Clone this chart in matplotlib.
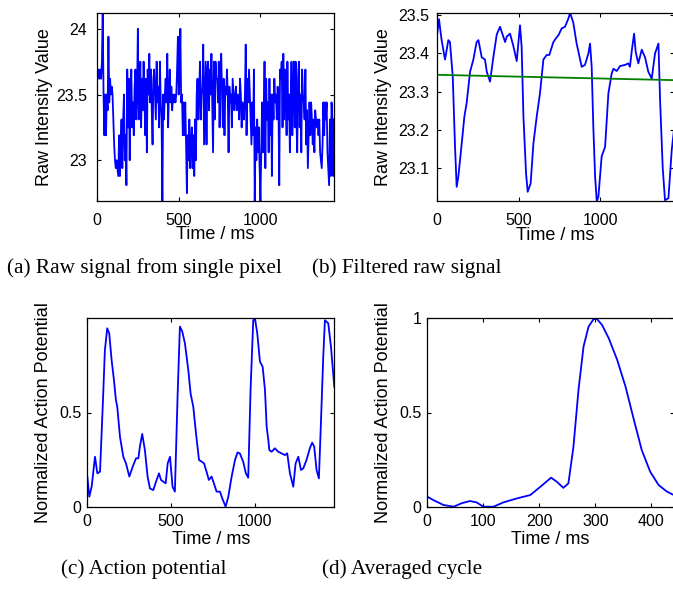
import matplotlib
matplotlib.use("Agg")
import matplotlib.pyplot as plt
import numpy as np
from matplotlib.ticker import FormatStrFormatter

plt.rcParams["font.family"] = ["Liberation Sans", "DejaVu Sans"]

# (a) raw signal from a single pixel, one sample every 5 ms
raw_dt = 5
raw_values = [
    23.69, 23.62, 23.69, 23.62, 23.69, 23.62, 23.75, 24.12, 23.50, 23.19,
    23.50, 23.19, 23.50, 23.38, 23.94, 23.44, 23.62, 23.50, 23.56, 23.50,
    23.31, 23.12, 23.00, 22.94, 23.00, 22.94, 22.88, 23.19, 22.88, 23.12,
    23.31, 22.94, 23.31, 23.50, 23.00, 23.19, 22.81, 23.69, 23.25, 23.62,
    23.00, 23.50, 23.69, 23.25, 23.44, 23.19, 23.56, 23.69, 23.31, 23.50,
    24.00, 23.31, 23.44, 23.75, 23.25, 23.62, 23.38, 23.75, 23.50, 23.19,
    23.62, 23.06, 23.69, 23.50, 23.81, 23.44, 23.69, 23.38, 23.12, 23.62,
    23.69, 23.50, 23.31, 23.75, 23.44, 23.56, 23.25, 23.75, 23.44, 23.31,
    22.69, 23.50, 23.31, 23.50, 23.62, 23.44, 23.81, 23.25, 23.50, 23.69,
    23.44, 23.56, 23.38, 23.50, 23.44, 23.50, 23.44, 23.50, 23.69, 23.94,
    23.50, 23.62, 24.00, 23.44, 23.50, 23.19, 23.44, 23.19, 23.44, 23.12,
    22.75, 23.19, 23.00, 23.31, 22.94, 23.12, 23.25, 22.94, 23.19, 22.88,
    23.31, 23.00, 23.50, 23.62, 23.31, 23.50, 23.75, 23.31, 23.50, 23.56,
    23.88, 23.12, 23.44, 23.75, 23.12, 23.69, 23.75, 23.38, 23.69, 23.50,
    23.81, 23.44, 23.06, 23.75, 23.31, 23.75, 23.62, 23.62, 23.44, 23.75,
    23.25, 23.69, 23.81, 23.50, 23.25, 23.62, 23.19, 23.56, 23.50, 23.69,
    23.50, 23.06, 23.56, 23.44, 23.50, 23.25, 23.62, 23.50, 23.38, 23.50,
    23.56, 23.38, 23.50, 23.44, 23.31, 23.62, 23.50, 23.25, 23.44, 23.38,
    23.31, 23.50, 23.88, 23.19, 23.62, 23.44, 23.69, 23.50, 23.31, 23.12,
    23.44, 23.19, 23.69, 22.69, 23.25, 23.00, 23.31, 23.06, 23.25, 22.94,
    22.69, 23.06, 23.44, 23.06, 23.31, 23.75, 22.94, 23.62, 23.31, 23.44,
    23.06, 23.62, 23.19, 23.50, 22.88, 23.50, 23.31, 23.62, 23.44, 23.50,
    23.31, 23.56, 23.44, 22.81, 23.69, 23.62, 23.75, 23.25, 23.81, 23.31,
    23.69, 23.50, 23.19, 23.75, 23.31, 23.50, 23.06, 23.44, 23.75, 23.19,
    23.50, 23.75, 23.25, 23.75, 23.31, 23.06, 23.62, 23.75, 23.25, 23.50,
    23.06, 23.69, 23.50, 23.44, 23.31, 23.69, 23.12, 23.38, 22.94, 23.19,
    23.44, 23.19, 23.44, 23.31, 23.12, 23.31, 23.06, 23.38, 23.31, 23.25,
    23.31, 23.19, 23.31, 23.06, 23.00, 22.94, 23.12, 23.44, 23.19, 23.44,
    23.31, 23.44, 23.06, 22.94, 22.81, 23.31, 22.88, 23.44, 23.31, 22.88,
    23.31,
]

# (b) filtered signal and its linear trend
filt_t = [0, 14, 30, 51, 71, 81, 98, 112, 122, 132, 153, 169, 183, 204, 224,
          244, 255, 275, 295, 306, 326, 346, 367, 387, 397, 418, 428, 448, 468,
          489, 509, 519, 530, 546, 556, 574, 591, 611, 631, 652, 672, 688, 713,
          729, 744, 764, 784, 805, 815, 835, 855, 886, 906, 927, 937, 947, 957,
          968, 978, 988, 1008, 1029, 1049, 1069, 1080, 1100, 1120, 1151, 1171,
          1181, 1191, 1206, 1216, 1232, 1253, 1273, 1293, 1314, 1334, 1355,
          1365, 1381, 1395, 1416, 1436, 1450]
filt_v = [23.440, 23.490, 23.435, 23.384, 23.435, 23.430, 23.340, 23.155,
          23.050, 23.076, 23.164, 23.234, 23.270, 23.352, 23.384, 23.430,
          23.435, 23.390, 23.384, 23.352, 23.326, 23.390, 23.450, 23.470,
          23.457, 23.430, 23.444, 23.452, 23.420, 23.380, 23.474, 23.418,
          23.234, 23.085, 23.037, 23.059, 23.164, 23.234, 23.295, 23.384,
          23.396, 23.396, 23.430, 23.440, 23.448, 23.466, 23.470, 23.492,
          23.507, 23.480, 23.426, 23.365, 23.370, 23.400, 23.426, 23.365,
          23.208, 23.076, 23.012, 23.024, 23.130, 23.155, 23.295, 23.347,
          23.360, 23.354, 23.367, 23.370, 23.374, 23.365, 23.404, 23.452,
          23.404, 23.374, 23.410, 23.390, 23.352, 23.334, 23.400, 23.426,
          23.277, 23.100, 23.015, 23.020, 23.146, 23.200]
trend_t = [0, 1450]
trend_v = [23.344, 23.330]

# (c) normalized action potential
ap_t = [0, 12, 26, 46, 60, 76, 92, 105, 119, 131, 145, 159, 171, 179, 195,
        215, 231, 251, 271, 291, 305, 314, 328, 344, 360, 374, 394, 414, 428,
        440, 454, 468, 480, 494, 509, 523, 539, 553, 567, 583, 603, 617, 633,
        649, 667, 683, 697, 712, 726, 742, 756, 772, 792, 806, 826, 842, 862,
        882, 897, 911, 931, 947, 961, 975, 991, 1001, 1015, 1031, 1047, 1061,
        1071, 1081, 1087, 1101, 1120, 1140, 1160, 1180, 1194, 1210, 1230,
        1244, 1260, 1276, 1290, 1309, 1329, 1343, 1355, 1369, 1383, 1395,
        1409, 1419, 1439, 1455, 1475]
ap_v = [0.160, 0.053, 0.106, 0.265, 0.177, 0.186, 0.530, 0.830, 0.947, 0.920,
        0.780, 0.673, 0.566, 0.530, 0.372, 0.265, 0.230, 0.160, 0.212, 0.257,
        0.257, 0.319, 0.386, 0.300, 0.160, 0.097, 0.088, 0.142, 0.177, 0.142,
        0.133, 0.124, 0.230, 0.265, 0.106, 0.080, 0.584, 0.956, 0.930, 0.867,
        0.726, 0.600, 0.530, 0.390, 0.248, 0.239, 0.230, 0.186, 0.142, 0.160,
        0.124, 0.080, 0.080, 0.044, 0.000, 0.053, 0.160, 0.248, 0.288, 0.283,
        0.239, 0.177, 0.154, 0.620, 0.990, 1.000, 0.920, 0.770, 0.743, 0.620,
        0.425, 0.354, 0.300, 0.292, 0.310, 0.292, 0.283, 0.274, 0.283, 0.177,
        0.106, 0.230, 0.265, 0.195, 0.204, 0.248, 0.310, 0.340, 0.319, 0.195,
        0.150, 0.442, 0.796, 0.990, 0.973, 0.850, 0.637]

# (d) averaged cycle
avg_t = [0, 11, 29, 47, 61, 76, 88, 100, 118, 136, 160, 184, 202, 221, 231,
         243, 252, 261, 270, 279, 288, 297, 303, 312, 324, 339, 354, 369, 383,
         398, 413, 428, 440]
avg_v = [0.053, 0.035, 0.009, 0.000, 0.018, 0.030, 0.023, 0.000, 0.000,
         0.023, 0.044, 0.062, 0.106, 0.154, 0.133, 0.100, 0.124, 0.319, 0.620,
         0.850, 0.956, 0.996, 0.996, 0.965, 0.894, 0.780, 0.637, 0.460, 0.300,
         0.186, 0.115, 0.080, 0.062]

captions = ["(a) Raw signal from single pixel", "(b) Filtered raw signal",
            "(c) Action potential", "(d) Averaged cycle"]

W, H = 673, 589
fig = plt.figure(figsize=(W / 100, H / 100), dpi=100)


def px_axes(left, top, right, bottom):
    return fig.add_axes([left / W, 1 - bottom / H, (right - left) / W, (bottom - top) / H])


def style(ax, xpad, ypad):
    ax.tick_params(direction="in", top=True, right=True, length=3, width=0.8,
                   labelsize=11.5)
    ax.tick_params(axis="x", pad=xpad)
    ax.tick_params(axis="y", pad=ypad)
    for s in ax.spines.values():
        s.set_linewidth(0.9)


blue = "#0000ff"
lw = 1.3

ax1 = px_axes(97, 13, 334, 201)
t1 = np.arange(len(raw_values)) * raw_dt
ax1.plot(t1, raw_values, color=blue, lw=lw)
ax1.set_xlim(0, 1450)
ax1.set_ylim(min(raw_values), max(raw_values))
ax1.set_xticks([0, 500, 1000])
ax1.set_yticks([23, 23.5, 24])
ax1.yaxis.set_major_formatter(FormatStrFormatter("%g"))
style(ax1, 8.5, 7)
ax1.set_ylabel("Raw Intensity Value", fontsize=13)
ax1.yaxis.set_label_coords(-0.186, 0.5)
ax1.set_xlabel("Time / ms", fontsize=13, va="top")
ax1.xaxis.set_label_coords(0.5, -0.135)

ax2 = px_axes(436.7, 12.7, 674, 201.3)
ax2.plot(filt_t, filt_v, color=blue, lw=lw)
ax2.plot(trend_t, trend_v, color="#008000", lw=lw)
ax2.set_xlim(0, 1450)
ax2.set_ylim(min(filt_v), max(filt_v))
ax2.set_xticks([0, 500, 1000])
ax2.set_yticks([23.1, 23.2, 23.3, 23.4, 23.5])
ax2.yaxis.set_major_formatter(FormatStrFormatter("%g"))
style(ax2, 8.5, 5.3)
ax2.set_ylabel("Raw Intensity Value", fontsize=13)
ax2.yaxis.set_label_coords(-0.19, 0.5)
ax2.set_xlabel("Time / ms", fontsize=13, va="top")
ax2.xaxis.set_label_coords(0.5, -0.135)

ax3 = px_axes(87.3, 318.3, 334.3, 506.7)
ax3.plot(ap_t, ap_v, color=blue, lw=lw)
ax3.set_xlim(0, 1475)
ax3.set_ylim(0, 1)
ax3.set_xticks([0, 500, 1000])
ax3.set_yticks([0, 0.5])
ax3.yaxis.set_major_formatter(FormatStrFormatter("%g"))
style(ax3, 5.3, 4)
ax3.set_ylabel("Normalized Action Potential", fontsize=13)
ax3.yaxis.set_label_coords(-0.142, 0.5)
ax3.set_xlabel("Time / ms", fontsize=13, va="top")
ax3.xaxis.set_label_coords(0.5, -0.13)

ax4 = px_axes(427.3, 318.3, 673.7, 506.7)
ax4.plot(avg_t, avg_v, color=blue, lw=lw)
ax4.set_xlim(0, 440)
ax4.set_ylim(0, 1)
ax4.set_xticks([0, 100, 200, 300, 400])
ax4.set_yticks([0, 0.5, 1])
ax4.yaxis.set_major_formatter(FormatStrFormatter("%g"))
style(ax4, 5.3, 4)
ax4.set_ylabel("Normalized Action Potential", fontsize=13)
ax4.yaxis.set_label_coords(-0.142, 0.5)
ax4.set_xlabel("Time / ms", fontsize=13, va="top")
ax4.xaxis.set_label_coords(0.5, -0.13)

cap_pos = [(144, 273), (407, 273), (144, 574), (402, 574)]
for text, (cx, cy) in zip(captions, cap_pos):
    fig.text(cx / W, 1 - cy / H, text, ha="center", va="baseline",
             fontsize=15.3, family=["Liberation Serif", "DejaVu Serif"])

fig.savefig("out.png", dpi=100)
